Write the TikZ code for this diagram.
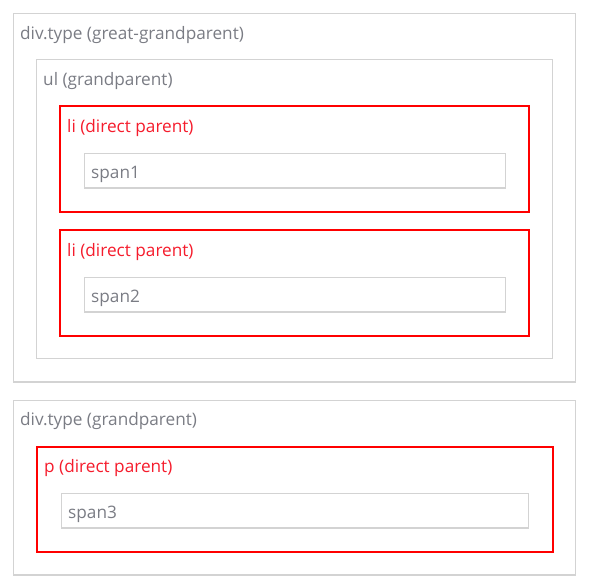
\documentclass[tikz,border=0pt]{standalone}
\usepackage{fontspec}
\setmainfont{Open Sans}
\definecolor{boxgray}{HTML}{D3D3D3}
\definecolor{txtgray}{HTML}{7A7C84}
\definecolor{redline}{HTML}{FF0000}
\definecolor{redtxt}{HTML}{F51C2C}
\begin{document}
\begin{tikzpicture}[x=1pt,y=-1pt,
  graybox/.style={draw=boxgray,line width=1.2pt,fill=none,inner sep=0pt,outer sep=0pt,anchor=north west},
  redbox/.style={draw=redline,line width=2.2pt,fill=none,inner sep=0pt,outer sep=0pt,anchor=north west},
  lbl/.style={anchor=base west,inner sep=0pt,font=\fontsize{17.2}{19}\selectfont,text=txtgray},
  rlbl/.style={lbl,text=redtxt}]
\useasboundingbox (0,0) rectangle (594,587);
% top group
\node[graybox,minimum width=562pt,minimum height=368.5pt] (ggp) at (13.5,13.5) {};
\node[lbl] (ggpl) at (20,39) {div.type (great-grandparent)};
\node[graybox,minimum width=516pt,minimum height=299pt] (gp) at (36.5,59.5) {};
\node[lbl] (gpl) at (43,85) {ul (grandparent)};
\node[redbox,minimum width=469pt,minimum height=106pt] (li1) at (60,106) {};
\node[rlbl] (li1l) at (67,132) {li (direct parent)};
\node[graybox,minimum width=421pt,minimum height=34.5pt] (s1) at (84.5,153.5) {};
\node[lbl] (s1l) at (91,178) {span1};
\node[redbox,minimum width=469pt,minimum height=106pt] (li2) at (60,230) {};
\node[rlbl] (li2l) at (67,256) {li (direct parent)};
\node[graybox,minimum width=421pt,minimum height=34.5pt] (s2) at (84.5,277.5) {};
\node[lbl] (s2l) at (91,302) {span2};
% bottom group
\node[graybox,minimum width=562pt,minimum height=174.5pt] (gp2) at (13.5,400.5) {};
\node[lbl] (gp2l) at (20,425) {div.type (grandparent)};
\node[redbox,minimum width=516pt,minimum height=105pt] (p) at (37,447) {};
\node[rlbl] (pl) at (44,472) {p (direct parent)};
\node[graybox,minimum width=467pt,minimum height=34.5pt] (s3) at (61.5,493.5) {};
\node[lbl] (s3l) at (68,518) {span3};
\end{tikzpicture}
\end{document}
